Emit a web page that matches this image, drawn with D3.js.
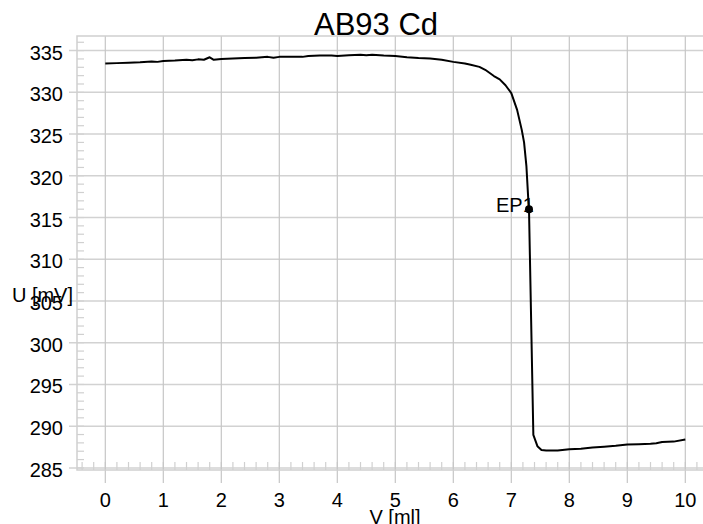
<!DOCTYPE html>
<html>
<head>
<meta charset="utf-8">
<script src="https://cdn.jsdelivr.net/npm/d3@7"></script>
<style>
    body { margin: 0; background: #fff; }
    svg { display: block; font-family: "Liberation Sans", Arial, sans-serif; }
</style>
</head>
<body>
<svg id="Chart" width="703" height="524"></svg>
<script>
// titration curve
var volumes = [0.0, 0.2, 0.4, 0.6, 0.8, 0.9, 1.0, 1.2, 1.4, 1.5, 1.6, 1.7, 1.8, 1.87, 2.0, 2.2, 2.4, 2.6, 2.8, 2.9,
    3.0, 3.2, 3.4, 3.5, 3.7, 3.9, 4.0, 4.2, 4.4, 4.5, 4.6, 4.8, 5.0, 5.2, 5.4, 5.6, 5.8, 6.0, 6.2, 6.3,
    6.45, 6.55, 6.7, 6.8, 6.9, 7.0, 7.1, 7.18, 7.22, 7.26, 7.29, 7.305, 7.38, 7.45, 7.52, 7.6, 7.8, 8.0, 8.2, 8.4,
    8.6, 8.8, 9.0, 9.2, 9.4, 9.5, 9.6, 9.8, 10.0];
var potentials = [333.45, 333.5, 333.55, 333.6, 333.7, 333.65, 333.75, 333.8, 333.9, 333.85, 333.95, 333.9, 334.2, 333.9, 334.0, 334.05, 334.1, 334.15, 334.25, 334.15,
    334.25, 334.25, 334.25, 334.35, 334.4, 334.4, 334.35, 334.45, 334.5, 334.45, 334.5, 334.4, 334.35, 334.2, 334.1, 334.05, 333.9, 333.65, 333.45, 333.3,
    333.05, 332.7, 331.95, 331.55, 330.85, 329.9, 327.9, 325.5, 324.0, 321.2, 317.5, 316.0, 288.95, 287.6, 287.15, 287.1, 287.1, 287.25, 287.3, 287.45,
    287.55, 287.65, 287.8, 287.85, 287.9, 287.95, 288.1, 288.15, 288.4];
var endPoints = [{ name: 'EP1', v: 7.305, u: 316.0 }];
var xTicks = [0, 1, 2, 3, 4, 5, 6, 7, 8, 9, 10];
var yTicks = [285, 290, 295, 300, 305, 310, 315, 320, 325, 330, 335];
var title = 'AB93 Cd';
var xTitle = 'V [ml]';
var yTitle = 'U [mV]';

function drawChart() {
    var svg = d3.select('#Chart');
    var padLeft = 77, padTop = 36, padRight = 703, padBottom = 470;
    var xScale = d3.scaleLinear().domain([-0.488, 10.305]).range([padLeft, padRight]);
    var yScale = d3.scaleLinear().domain([284.75, 336.75]).range([padBottom, padTop]);

    // minor ticks
    var xMinor = d3.range(-4, 104, 2).map(function (d) { return d / 10; });
    var yMinor = d3.range(285, 337, 1);
    svg.append('g').attr('class', 'minor')
        .selectAll('line')
        .data(xMinor)
        .enter()
        .append('line')
        .attr('x1', function (d) { return xScale(d); })
        .attr('x2', function (d) { return xScale(d); })
        .attr('y1', padBottom)
        .attr('y2', padBottom - 8)
        .attr('stroke', '#d0d0d0')
        .attr('stroke-width', 1.2);
    svg.append('g').attr('class', 'minor')
        .selectAll('line')
        .data(yMinor)
        .enter()
        .append('line')
        .attr('x1', padLeft)
        .attr('x2', padLeft + 7)
        .attr('y1', function (d) { return yScale(d); })
        .attr('y2', function (d) { return yScale(d); })
        .attr('stroke', '#d0d0d0')
        .attr('stroke-width', 1.2);

    // grid
    svg.append('g').attr('class', 'grid')
        .selectAll('line')
        .data(yTicks)
        .enter()
        .append('line')
        .attr('x1', padLeft - 8)
        .attr('x2', padRight)
        .attr('y1', function (d) { return yScale(d); })
        .attr('y2', function (d) { return yScale(d); })
        .attr('stroke', '#d2d2d2')
        .attr('stroke-width', 1.5);
    svg.append('g').attr('class', 'grid')
        .selectAll('line')
        .data(xTicks)
        .enter()
        .append('line')
        .attr('x1', function (d) { return xScale(d); })
        .attr('x2', function (d) { return xScale(d); })
        .attr('y1', padTop)
        .attr('y2', padBottom + 13)
        .attr('stroke', '#c6c6c6')
        .attr('stroke-width', 1.2);

    // frame
    svg.append('path')
        .attr('d', 'M' + padRight + ',' + padTop + 'H' + padLeft + 'V' + padBottom + 'H' + padRight)
        .attr('fill', 'none')
        .attr('stroke', '#d0d0d0')
        .attr('stroke-width', 1.5);

    // tick labels
    svg.append('g').attr('class', 'title')
        .selectAll('text')
        .data(yTicks)
        .enter()
        .append('text')
        .attr('x', 63)
        .attr('y', function (d) { return yScale(d) + 9; })
        .attr('text-anchor', 'end')
        .style('font-size', '20px')
        .text(function (d) { return d; });
    svg.append('g').attr('class', 'title')
        .selectAll('text')
        .data(xTicks)
        .enter()
        .append('text')
        .attr('x', function (d) { return xScale(d); })
        .attr('y', padBottom + 37)
        .attr('text-anchor', 'middle')
        .style('font-size', '20px')
        .text(function (d) { return d; });

    // axis titles
    svg.append('text')
        .attr('x', 73)
        .attr('y', 302)
        .attr('text-anchor', 'end')
        .style('font-size', '20px')
        .text(yTitle);
    svg.append('text')
        .attr('x', 395)
        .attr('y', 524)
        .attr('text-anchor', 'middle')
        .style('font-size', '20px')
        .text(xTitle);
    svg.append('text')
        .attr('x', 376)
        .attr('y', 35)
        .attr('text-anchor', 'middle')
        .style('font-size', '31px')
        .text(title);

    // curve
    var points = volumes.map(function (v, i) { return [v, potentials[i]]; });
    var line = d3.line()
        .x(function (d) { return xScale(d[0]); })
        .y(function (d) { return yScale(d[1]); });
    svg.append('path')
        .attr('d', line(points))
        .attr('fill', 'none')
        .attr('stroke', '#000')
        .attr('stroke-width', 2)
        .attr('stroke-linejoin', 'round');

    // end points
    var ep = svg.append('g').attr('class', 'ep')
        .selectAll('g')
        .data(endPoints)
        .enter()
        .append('g');
    ep.append('circle')
        .attr('cx', function (d) { return xScale(d.v); })
        .attr('cy', function (d) { return yScale(d.u); })
        .attr('r', 4)
        .attr('fill', '#000');
    ep.append('text')
        .attr('x', function (d) { return xScale(d.v) - 33; })
        .attr('y', function (d) { return yScale(d.u) + 2.5; })
        .style('font-size', '20px')
        .text(function (d) { return d.name; });
}

drawChart();
</script>
</body>
</html>
